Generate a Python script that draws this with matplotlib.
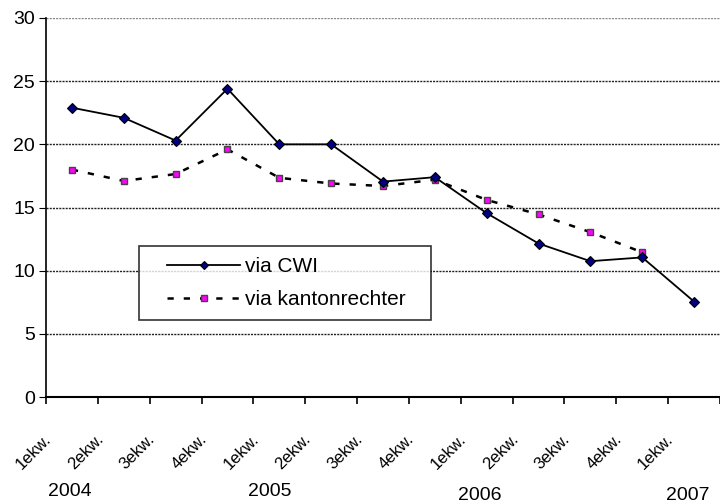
import numpy as np
import matplotlib
matplotlib.use("Agg")
import matplotlib.pyplot as plt
from matplotlib.transforms import ScaledTranslation
from matplotlib.legend_handler import HandlerLine2D

plt.rcParams['font.family'] = ['Liberation Sans', 'DejaVu Sans']

quarters = ["1ekw.", "2ekw.", "3ekw.", "4ekw.",
            "1ekw.", "2ekw.", "3ekw.", "4ekw.",
            "1ekw.", "2ekw.", "3ekw.", "4ekw.",
            "1ekw."]
years = ["2004", "2005", "2006", "2007"]
via_cwi = [22.9, 22.1, 20.3, 24.4, 20.0, 20.0, 17.05, 17.4, 14.55, 12.15, 10.75, 11.05, 7.55]
via_kanton = [18.0, 17.1, 17.65, 19.6, 17.35, 16.9, 16.7, 17.2, 15.6, 14.45, 13.05, 11.45]

fig = plt.figure(figsize=(7.2, 5.04), dpi=100)
ax = fig.add_axes([46/720, 1-397/504, 674/720, 379/504])

x = np.arange(len(quarters))
l1, = ax.plot(x, via_cwi, color='black', lw=1.3, marker='D', ms=5.2,
              mfc='#000080', mec='black', mew=0.8, label='via CWI', zorder=4)
l2, = ax.plot(x[:len(via_kanton)], via_kanton, color='black', lw=1.8, ls=(0, (2.5, 4)),
              marker='s', ms=5, mfc='#FF00FF', mec='#444444', mew=1.0,
              label='via kantonrechter', zorder=3)

ax.set_xlim(-0.5, len(quarters) - 0.5)
ax.set_ylim(0, 30)
ax.set_yticks(range(0, 31, 5))
ax.tick_params(axis='y', labelsize=14, length=5, direction='out', pad=3)

# gridlines
for v in range(5, 31, 5):
    ax.axhline(v, color='#888888' if v == 30 else '#222222', lw=1.0,
               ls=(0, (1.5, 0.8)), zorder=1)

ax.set_xticks(x)
ax.set_xticklabels(quarters, rotation=45, fontsize=12, ha='center')
ax.tick_params(axis='x', which='major', length=0, pad=25)
ax.set_xticks(np.arange(-0.5, len(quarters), 1.0), minor=True)
ax.tick_params(axis='x', which='minor', length=5, direction='out', width=1.2)
off = ScaledTranslation(-0.38, 0, fig.dpi_scale_trans)
for lab in ax.get_xticklabels():
    lab.set_transform(lab.get_transform() + off)

for s in ['top', 'right']:
    ax.spines[s].set_visible(False)
ax.spines['left'].set_linewidth(1.2)
ax.spines['bottom'].set_linewidth(1.5)

# year labels
year_pos = [(70, 491), (270, 491), (480, 496), (688, 496)]
for yr, (px, py) in zip(years, year_pos):
    fig.text(px/720, 1-py/504, yr, fontsize=14, ha='center', va='center')

hm = {l1: HandlerLine2D(xpad=0.82), l2: HandlerLine2D(xpad=0.82)}
leg = ax.legend(loc='lower left', bbox_to_anchor=(0.138, 0.203, 0.433, 0.222),
                mode='expand', fontsize=15, frameon=True, fancybox=False,
                edgecolor='black', handlelength=4.33, labelspacing=0.67,
                borderpad=0.53, borderaxespad=0, handletextpad=0.24,
                handler_map=hm)
leg.get_frame().set_linewidth(1.2)
for h in leg.legend_handles:
    h.set_markersize(4)

fig.savefig("out.png", dpi=100, facecolor='white')
